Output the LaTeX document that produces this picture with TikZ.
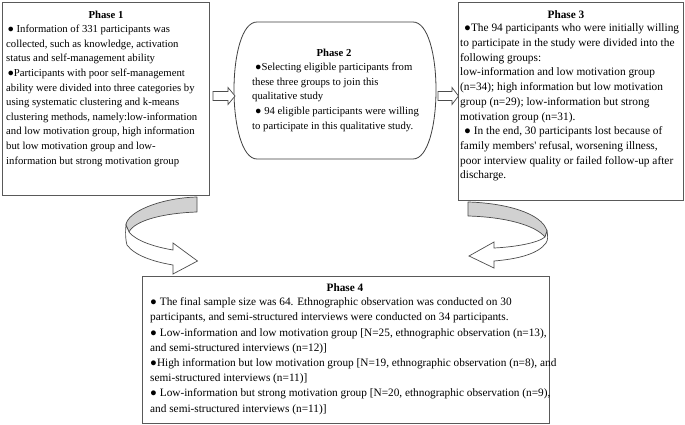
\documentclass[tikz,border=0pt]{standalone}
\usepackage{fontspec}
\setmainfont{Liberation Serif}
\begin{document}
\begin{tikzpicture}[x=1pt,y=-1pt]
\tikzset{
 box/.style={draw=black!65, line width=0.8pt, inner sep=0pt, anchor=north west},
 ttl/.style={font=\bfseries\fontsize{10.7}{12}\selectfont, anchor=base, inner sep=0pt},
 ttlbig/.style={ttl, font=\bfseries\fontsize{11.3}{12}\selectfont},
 body/.style={align=left, anchor=north west, inner sep=0pt, font=\fontsize{10.7}{14.6}\selectfont},
 body3/.style={body, font=\fontsize{11.35}{14.7}\selectfont},
 body4/.style={body, font=\fontsize{11.3}{15.2}\selectfont},
 barrow/.style={draw=black!70, line width=0.7pt, fill=white, line join=miter},
 curlback/.style={draw=black!70, line width=0.7pt, fill=black!18, line join=round},
 curlfront/.style={draw=black!70, line width=0.7pt, fill=white, line join=miter},
}
\useasboundingbox (0,0) rectangle (685,425);
\fill[white] (0,0) rectangle (685,425);

% boxes
\node[box, minimum width=207pt, minimum height=193pt] (p1) at (2,2) {};
\node[box, minimum width=225pt, minimum height=198pt] (p3) at (458,2) {};
\node[box, minimum width=407pt, minimum height=147pt] (p4) at (142,276) {};
\draw[draw=black!75, line width=0.8pt] (257,22) -- (413,22)
  .. controls (428,22) and (436,55) .. (436,90)
  .. controls (436,125) and (428,159) .. (413,159) -- (257,159)
  .. controls (242,159) and (234,125) .. (234,90)
  .. controls (234,55) and (242,22) .. (257,22) -- cycle;
\coordinate (p2) at (335,90);

% texts
\node[ttl] (t1) at (106,18.5) {Phase 1};
\node[body] (b1) at (6,22.3) {\strut\hspace{1.3pt}● Information of 331 participants was\\
collected, such as knowledge, activation\\
status and self-management ability\\
\hspace{1.3pt}●Participants with poor self-management\\
ability were divided into three categories by\\
using systematic clustering and k-means\\
clustering methods, namely:low-information\\
and low motivation group, high information\\
but low motivation group and low-\\
information but strong motivation group};

\node[ttl] (t2) at (334,56.5) {Phase 2};
\node[body] (b2) at (252,60.2) {\strut\hspace{3pt}●Selecting eligible participants from\\
these three groups to join this\\
qualitative study\\
\hspace{3pt}● 94 eligible participants were willing\\
to participate in this qualitative study.};

\node[ttlbig] (t3) at (566,18.5) {Phase 3};
\node[body3] (b3) at (460,21.4) {\strut\hspace{4pt}●The 94 participants who were initially willing\\
to participate in the study were divided into the\\
following groups:\\
low-information and low motivation group\\
(n=34); high information but low motivation\\
group (n=29); low-information but strong\\
motivation group (n=31).\\
\hspace{4pt}● In the end, 30 participants lost because of\\
family members\textquotesingle\ refusal, worsening illness,\\
poor interview quality or failed follow-up after\\
discharge.};

\node[ttlbig] (t4) at (345,291.5) {Phase 4};
\node[body4] (b4) at (150,294.8) {\strut● The final sample size was 64. Ethnographic observation was conducted on 30\\
participants, and semi-structured interviews were conducted on 34 participants.\\
● Low-information and low motivation group [N=25, ethnographic observation (n=13),\\
and semi-structured interviews (n=12)]\\
●High information but low motivation group [N=19, ethnographic observation (n=8), and\\
semi-structured interviews (n=11)]\\
● Low-information but strong motivation group [N=20, ethnographic observation (n=9),\\
and semi-structured interviews (n=11)]};

% block arrows between phases
\draw[barrow] (213,91.5) -- (228,91.5) -- (228,87.5) -- (235,96) -- (228,104.5) -- (228,100.5) -- (213,100.5) -- cycle;
\draw[barrow] (438,91.5) -- (452,91.5) -- (452,87.5) -- (458.5,96) -- (452,104.5) -- (452,100.5) -- (438,100.5) -- cycle;

% left curled arrow (phase 1 -> phase 4)
\draw[curlback] (197,197) .. controls (160,198) and (127,212) .. (126,225)
  -- (129,232) .. controls (135,220) and (165,213) .. (197,212) -- cycle;
\draw[curlfront] (126,225) .. controls (125,235) and (126,242) .. (127,245)
  .. controls (135,256) and (155,262) .. (173,265) -- (173,274) -- (197.5,261)
  -- (173,243) -- (173,250) .. controls (155,247) and (136,241) .. (129,232) -- cycle;

% right curled arrow (phase 3 -> phase 4)
\draw[curlback] (468,202) .. controls (505,203) and (542,213) .. (547,231)
  -- (545,237) .. controls (535,225) and (505,217) .. (468,216) -- cycle;
\draw[curlfront] (547,231) .. controls (548,236) and (548,240) .. (546,243)
  .. controls (538,254) and (518,259) .. (494,261) -- (494,268) -- (469,256)
  -- (494,242) -- (494,248) .. controls (515,247) and (538,243) .. (545,237) -- cycle;
\end{tikzpicture}
\end{document}
